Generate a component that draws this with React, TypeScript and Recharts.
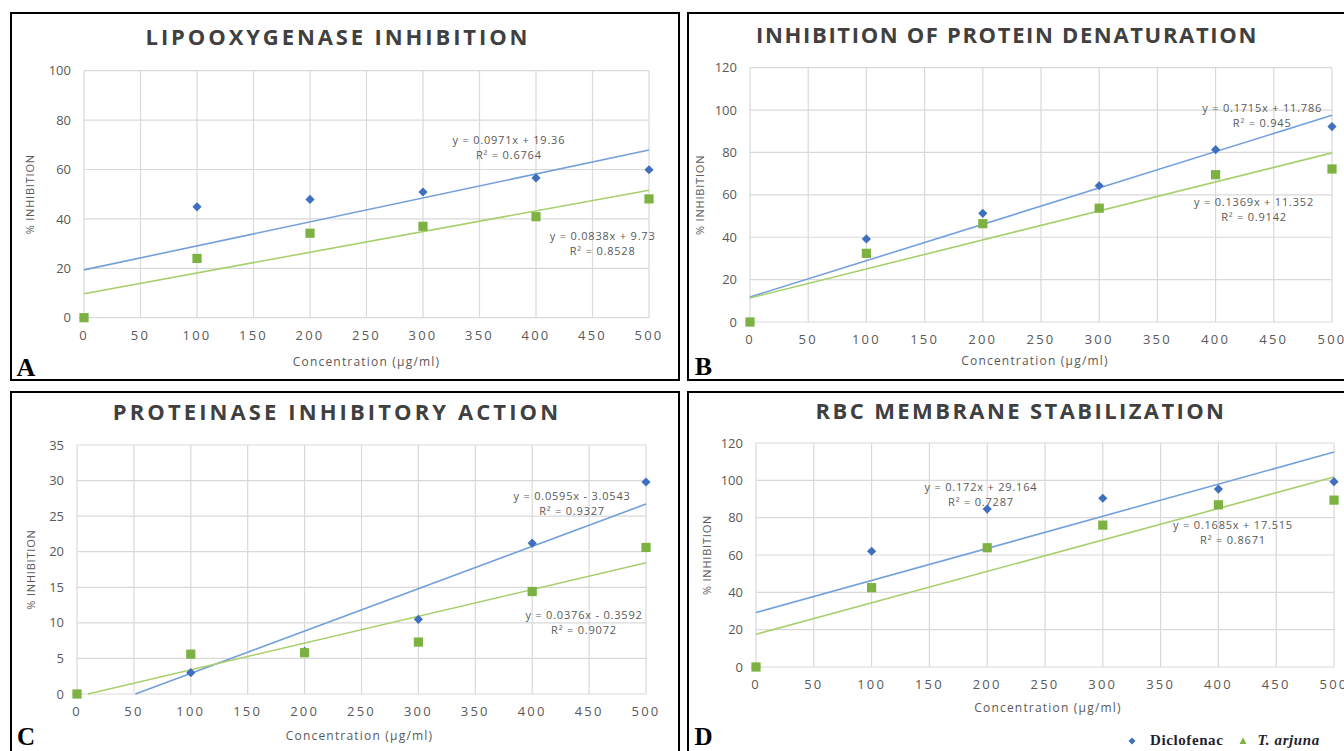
import React from "react";
import { ScatterChart, Scatter, XAxis, YAxis, CartesianGrid } from "recharts";

// shared x values
const concentrations = [0, 100, 200, 300, 400, 500];
const xTicks = [0, 50, 100, 150, 200, 250, 300, 350, 400, 450, 500];
const trendEnds = [0, 500];

// A - lipoxygenase inhibition (%)
const loxDiclofenac = [0, 44.9, 47.9, 50.9, 56.6, 59.9];
const loxArjuna = [0, 24.0, 34.2, 37.0, 40.9, 48.1];
const loxTrendDiclofenac = [19.36, 67.91];
const loxTrendArjuna = [9.73, 51.63];
const loxTicks = [0, 20, 40, 60, 80, 100];

// B - protein denaturation (%)
const denDiclofenac = [0, 39.2, 51.3, 64.3, 81.3, 92.2];
const denArjuna = [0, 32.4, 46.4, 53.7, 69.5, 72.2];
const denTrendDiclofenac = [11.79, 97.54];
const denTrendArjuna = [11.35, 79.8];
const denTicks = [0, 20, 40, 60, 80, 100, 120];

// C - proteinase inhibitory action (%)
const protDiclofenac = [0, 3.0, 6.0, 10.5, 21.2, 29.8];
const protArjuna = [0, 5.6, 5.8, 7.3, 14.4, 20.6];
const protTrendDiclofenacX = [51.3, 500];
const protTrendDiclofenac = [0, 26.7];
const protTrendArjunaX = [9.6, 500];
const protTrendArjuna = [0, 18.44];
const protTicks = [0, 5, 10, 15, 20, 25, 30, 35];

// D - RBC membrane stabilization (%)
const rbcDiclofenac = [0, 62.0, 84.6, 90.4, 95.3, 99.3];
const rbcArjuna = [0, 42.5, 63.9, 76.0, 86.9, 89.4];
const rbcTrendDiclofenac = [29.16, 115.16];
const rbcTrendArjuna = [17.52, 101.77];
const rbcTicks = [0, 20, 40, 60, 80, 100, 120];

const BLUE = "#3f6fbf";
const GREEN = "#7db243";
const BLUE_LINE = "#74a0da";
const GREEN_LINE = "#a8cf6c";
const GREY = "#595959";
const SANS = "'Open Sans', sans-serif";

const toPoints = (xs: number[], ys: number[]) => xs.map((x, i) => ({ x, y: ys[i] }));

const Diamond = (p: any) => {
  const r = 4.6;
  return (
    <polygon
      points={`${p.cx},${p.cy - r} ${p.cx + r},${p.cy} ${p.cx},${p.cy + r} ${p.cx - r},${p.cy}`}
      fill={BLUE}
    />
  );
};

const Square = (p: any) => (
  <rect x={p.cx - 4.6} y={p.cy - 4.6} width={9.2} height={9.2} fill={GREEN} />
);

const Nothing = () => <g />;

const equationShape = (lines: string[]) => (p: any) => (
  <text textAnchor="middle" fontSize={11} fill={GREY} fontFamily={SANS} letterSpacing={0.8}>
    <tspan x={p.cx} y={p.cy} dy="0.35em">{lines[0]}</tspan>
    <tspan x={p.cx} dy={15}>{lines[1]}</tspan>
  </text>
);

interface Eq {
  x: number;
  y: number;
  lines: string[];
}

interface PanelSpec {
  title: string;
  titleSpacing: number;
  letter: string;
  letterSize: number;
  box: { left: number; top: number; width: number; height: number };
  chart: { left: number; top: number; width: number; height: number };
  plot: { left: number; right: number; top: number; bottom: number };
  titleAt: [number, number];
  letterAt: [number, number];
  xLabelBaseline: number;
  xLabelDx: number;
  yLabelX: number;
  yMax: number;
  yTicks: number[];
  diclofenac: number[];
  arjuna: number[];
  trendDX: number[];
  trendD: number[];
  trendAX: number[];
  trendA: number[];
  eqD: Eq;
  eqA: Eq;
}

const panels: PanelSpec[] = [
  {
    title: "LIPOOXYGENASE INHIBITION",
    titleSpacing: 2.9,
    letter: "A",
    letterSize: 26,
    box: { left: 10, top: 12, width: 670, height: 369 },
    chart: { left: 12, top: 14, width: 665, height: 366 },
    plot: { left: 84, right: 649, top: 70.7, bottom: 317.7 },
    titleAt: [338, 36],
    letterAt: [26, 367.5],
    xLabelBaseline: 365.5,
    xLabelDx: 0,
    yLabelX: 30,
    yMax: 100,
    yTicks: loxTicks,
    diclofenac: loxDiclofenac,
    arjuna: loxArjuna,
    trendDX: trendEnds,
    trendD: loxTrendDiclofenac,
    trendAX: trendEnds,
    trendA: loxTrendArjuna,
    eqD: { x: 376, y: 71.9, lines: ["y = 0.0971x + 19.36", "R² = 0.6764"] },
    eqA: { x: 459, y: 33.2, lines: ["y = 0.0838x + 9.73", "R² = 0.8528"] },
  },
  {
    title: "INHIBITION OF PROTEIN DENATURATION",
    titleSpacing: 1.65,
    letter: "B",
    letterSize: 26,
    box: { left: 687, top: 12, width: 700, height: 369 },
    chart: { left: 689, top: 14, width: 665, height: 366 },
    plot: { left: 750, right: 1332, top: 67.7, bottom: 322 },
    titleAt: [1007, 33.5],
    letterAt: [703.5, 366.5],
    xLabelBaseline: 365.3,
    xLabelDx: -6,
    yLabelX: 700,
    yMax: 120,
    yTicks: denTicks,
    diclofenac: denDiclofenac,
    arjuna: denArjuna,
    trendDX: trendEnds,
    trendD: denTrendDiclofenac,
    trendAX: trendEnds,
    trendA: denTrendArjuna,
    eqD: { x: 440, y: 100.8, lines: ["y = 0.1715x + 11.786", "R² = 0.945"] },
    eqA: { x: 433, y: 56.5, lines: ["y = 0.1369x + 11.352", "R² = 0.9142"] },
  },
  {
    title: "PROTEINASE INHIBITORY ACTION",
    titleSpacing: 3.1,
    letter: "C",
    letterSize: 25,
    box: { left: 10, top: 391, width: 670, height: 400 },
    chart: { left: 12, top: 393, width: 665, height: 358 },
    plot: { left: 77, right: 646, top: 445, bottom: 694 },
    titleAt: [337, 411],
    letterAt: [26, 737],
    xLabelBaseline: 740.3,
    xLabelDx: -2,
    yLabelX: 31,
    yMax: 35,
    yTicks: protTicks,
    diclofenac: protDiclofenac,
    arjuna: protArjuna,
    trendDX: protTrendDiclofenacX,
    trendD: protTrendDiclofenac,
    trendAX: protTrendArjunaX,
    trendA: protTrendArjuna,
    eqD: { x: 435, y: 27.8, lines: ["y = 0.0595x - 3.0543", "R² = 0.9327"] },
    eqA: { x: 445.5, y: 11.1, lines: ["y = 0.0376x - 0.3592", "R² = 0.9072"] },
  },
  {
    title: "RBC MEMBRANE STABILIZATION",
    titleSpacing: 2.4,
    letter: "D",
    letterSize: 25,
    box: { left: 687, top: 391, width: 700, height: 400 },
    chart: { left: 689, top: 393, width: 665, height: 358 },
    plot: { left: 756, right: 1334, top: 443, bottom: 667 },
    titleAt: [1021, 410],
    letterAt: [703.5, 737],
    xLabelBaseline: 712,
    xLabelDx: 3,
    yLabelX: 707.6,
    yMax: 120,
    yTicks: rbcTicks,
    diclofenac: rbcDiclofenac,
    arjuna: rbcArjuna,
    trendDX: trendEnds,
    trendD: rbcTrendDiclofenac,
    trendAX: trendEnds,
    trendA: rbcTrendArjuna,
    eqD: { x: 194.6, y: 96.3, lines: ["y = 0.172x + 29.164", "R² = 0.7287"] },
    eqA: { x: 412.6, y: 76.1, lines: ["y = 0.1685x + 17.515", "R² = 0.8671"] },
  },
];

function Panel({ spec }: { spec: PanelSpec }) {
  const { chart, plot, box } = spec;
  const yAxisWidth = plot.left - chart.left;
  const xAxisHeight = chart.top + chart.height - plot.bottom;
  const margin = {
    top: plot.top - chart.top,
    right: chart.left + chart.width - plot.right,
    left: 0,
    bottom: 0,
  };
  return (
    <>
      <div
        style={{
          position: "absolute",
          left: box.left,
          top: box.top,
          width: box.width,
          height: box.height,
          border: "2px solid #000",
          boxSizing: "border-box",
          background: "#fff",
        }}
      />
      <div style={{ position: "absolute", left: chart.left, top: chart.top }}>
        <ScatterChart width={chart.width} height={chart.height} margin={margin}>
          <CartesianGrid stroke="#d9d9d9" strokeWidth={1.2} />
          <XAxis
            type="number"
            dataKey="x"
            domain={[0, 500]}
            ticks={xTicks}
            interval={0}
            axisLine={false}
            tickLine={false}
            tickMargin={7}
            height={xAxisHeight}
            tick={{ fontSize: 13, fill: GREY, fontFamily: SANS, letterSpacing: 2.2 }}
            label={{
              value: "Concentration (µg/ml)",
              position: "insideBottom",
              offset: chart.top + chart.height - spec.xLabelBaseline,
              dx: spec.xLabelDx,
              fontSize: 12,
              fill: GREY,
              fontFamily: SANS,
              letterSpacing: 1.2,
            }}
          />
          <YAxis
            type="number"
            dataKey="y"
            domain={[0, spec.yMax]}
            ticks={spec.yTicks}
            interval={0}
            axisLine={false}
            tickLine={false}
            tickMargin={7}
            width={yAxisWidth}
            tick={{ fontSize: 13, fill: GREY, fontFamily: SANS }}
            label={{
              value: "% INHIBITION",
              angle: -90,
              position: "insideLeft",
              offset: spec.yLabelX - chart.left,
              style: { textAnchor: "middle" },
              fontSize: 11,
              fill: GREY,
              fontFamily: SANS,
              letterSpacing: 0.8,
            }}
          />
          <Scatter
            data={toPoints(spec.trendDX, spec.trendD)}
            line={{ stroke: BLUE_LINE, strokeWidth: 1.6 }}
            shape={Nothing}
            isAnimationActive={false}
          />
          <Scatter
            data={toPoints(spec.trendAX, spec.trendA)}
            line={{ stroke: GREEN_LINE, strokeWidth: 1.6 }}
            shape={Nothing}
            isAnimationActive={false}
          />
          <Scatter
            data={toPoints(concentrations, spec.diclofenac)}
            shape={Diamond}
            isAnimationActive={false}
          />
          <Scatter
            data={toPoints(concentrations, spec.arjuna)}
            shape={Square}
            isAnimationActive={false}
          />
          <Scatter
            data={[{ x: spec.eqD.x, y: spec.eqD.y }]}
            shape={equationShape(spec.eqD.lines)}
            isAnimationActive={false}
          />
          <Scatter
            data={[{ x: spec.eqA.x, y: spec.eqA.y }]}
            shape={equationShape(spec.eqA.lines)}
            isAnimationActive={false}
          />
        </ScatterChart>
      </div>
      <div
        style={{
          position: "absolute",
          left: spec.titleAt[0],
          top: spec.titleAt[1],
          transform: "translate(-50%, -50%)",
          whiteSpace: "nowrap",
          lineHeight: 1,
          fontFamily: SANS,
          fontWeight: 700,
          fontSize: 22,
          letterSpacing: spec.titleSpacing,
          color: "#404040",
        }}
      >
        {spec.title}
      </div>
      <div
        style={{
          position: "absolute",
          left: spec.letterAt[0],
          top: spec.letterAt[1],
          transform: "translate(-50%, -50%)",
          lineHeight: 0.75,
          fontFamily: "'Liberation Serif', serif",
          fontWeight: 700,
          fontSize: spec.letterSize,
          color: "#000",
        }}
      >
        {spec.letter}
      </div>
    </>
  );
}

export default function App() {
  return (
    <div
      style={{
        position: "absolute",
        left: 0,
        top: 0,
        width: 1344,
        height: 751,
        overflow: "hidden",
        background: "#fff",
      }}
    >
      {panels.map((p) => (
        <Panel key={p.letter} spec={p} />
      ))}
      <div
        style={{
          position: "absolute",
          left: 1126,
          top: 732,
          display: "flex",
          alignItems: "center",
          fontFamily: "'Liberation Serif', serif",
          fontWeight: 700,
          fontSize: 15,
          letterSpacing: 0.6,
          color: "#1f1f2e",
          whiteSpace: "nowrap",
        }}
      >
        <svg width={12} height={12}>
          <polygon points="6,2.5 9.5,6 6,9.5 2.5,6" fill={BLUE} />
        </svg>
        <span style={{ marginLeft: 12 }}>Diclofenac</span>
        <svg width={12} height={12} style={{ marginLeft: 14 }}>
          <polygon points="6,2.5 9.5,9 2.5,9" fill={GREEN} />
        </svg>
        <span style={{ marginLeft: 8, fontStyle: "italic" }}>T. arjuna</span>
      </div>
    </div>
  );
}
